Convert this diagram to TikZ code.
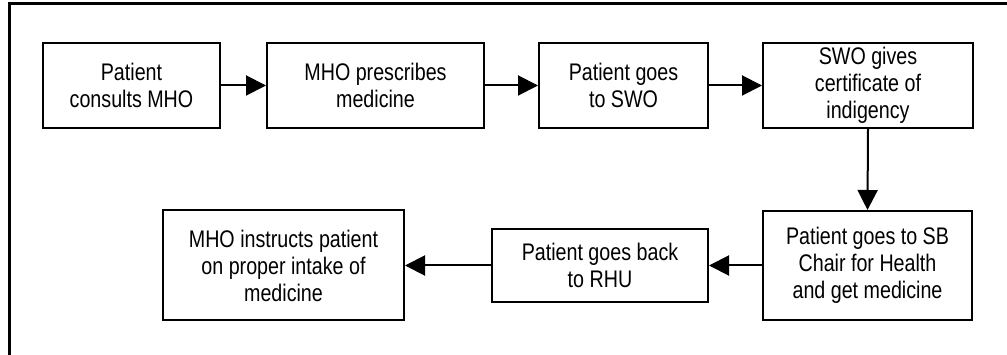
\documentclass[tikz,border=0pt]{standalone}
\usepackage{fontspec}
\setmainfont{Liberation Sans}[FakeStretch=0.82]
\usetikzlibrary{arrows.meta}
\begin{document}
\begin{tikzpicture}[x=1pt,y=-1pt,
  stepbox/.style={draw, line width=2pt, align=center, inner sep=0pt,
    font=\fontsize{24}{27}\selectfont},
  flow/.style={line width=2pt, -{Triangle[length=20pt,width=20pt]}}]
  \useasboundingbox (0,0) rectangle (1007,355);
  % outer frame (top and left edges)
  \draw[line width=2.4pt] (9.5,355) -- (9.5,3.5) -- (1007,3.5);
  % process steps
  \node[stepbox, minimum width=177pt, minimum height=85pt] (b1) at (131.5,85.5) {Patient\\consults MHO};
  \node[stepbox, minimum width=217pt, minimum height=85pt] (b2) at (375.5,85.5) {MHO prescribes\\medicine};
  \node[stepbox, minimum width=169pt, minimum height=85pt] (b3) at (623.5,85.5) {Patient goes\\to SWO};
  \node[stepbox, minimum width=210pt, minimum height=85pt] (b4) at (868,85.5) {SWO gives\\certificate of\\indigency};
  \node[stepbox, minimum width=209pt, minimum height=109pt] (b5) at (867.5,265.5) {Patient goes to SB\\Chair for Health\\and get medicine};
  \node[stepbox, minimum width=216pt, minimum height=73pt] (b6) at (600,265.5) {Patient goes back\\to RHU};
  \node[stepbox, minimum width=241pt, minimum height=110pt] (b7) at (283.5,265.5) {MHO instructs patient\\on proper intake of\\medicine};
  % connectors
  \draw[flow] (b1.east) -- (b2.west);
  \draw[flow] (b2.east) -- (b3.west);
  \draw[flow] (b3.east) -- (b4.west);
  \draw[flow] (b4.south) -- (b5.north);
  \draw[flow] (b5.west) -- (b6.east);
  \draw[flow] (b6.west) -- (b7.east);
\end{tikzpicture}
\end{document}
